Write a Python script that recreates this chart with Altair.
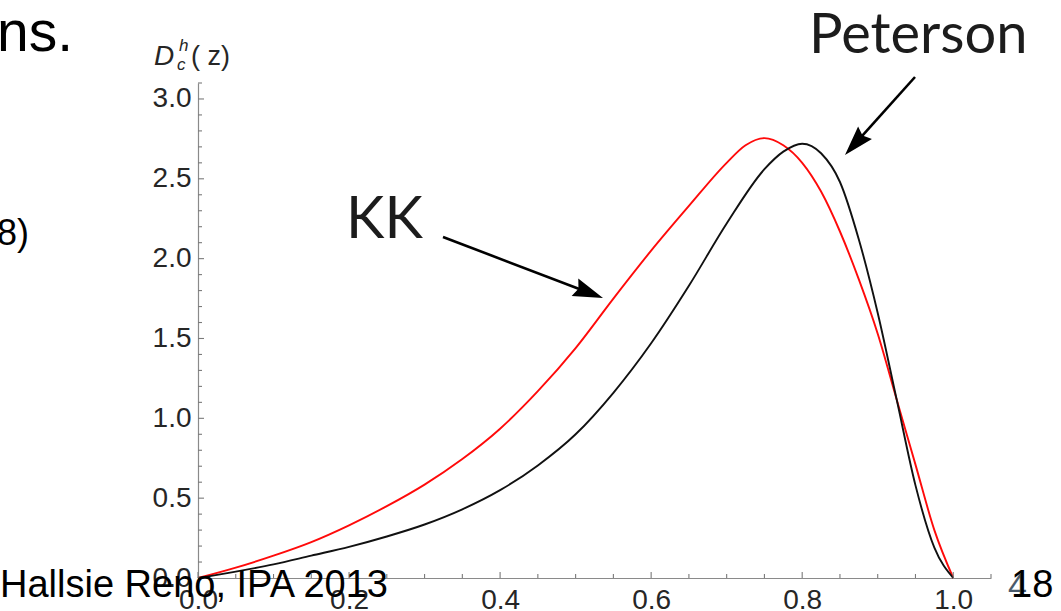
import math

import altair as alt
import pandas as pd

# Fragmentation functions D_c^h(z) for two parametrisations
z_kk = [0.0, 0.05, 0.10, 0.15, 0.20, 0.25, 0.30, 0.35, 0.40, 0.45, 0.50, 0.55, 0.60,
        0.65, 0.70, 0.725, 0.75, 0.775, 0.80, 0.825, 0.85, 0.875, 0.90, 0.925, 0.95,
        0.975, 1.0]
d_kk = [0.0, 0.065, 0.14, 0.225, 0.33, 0.45, 0.585, 0.745, 0.935, 1.17, 1.44, 1.75, 2.05,
        2.33, 2.60, 2.71, 2.755, 2.71, 2.60, 2.42, 2.17, 1.87, 1.53, 1.12, 0.71,
        0.30, 0.0]

z_pet = [0.0, 0.05, 0.10, 0.15, 0.20, 0.25, 0.30, 0.35, 0.40, 0.45, 0.50, 0.55, 0.60,
         0.65, 0.70, 0.75, 0.775, 0.80, 0.825, 0.85, 0.875, 0.90, 0.925, 0.95, 0.975, 1.0]
d_pet = [0.0, 0.04, 0.085, 0.14, 0.195, 0.26, 0.335, 0.43, 0.55, 0.705, 0.90, 1.16, 1.47,
         1.83, 2.22, 2.56, 2.67, 2.72, 2.66, 2.48, 2.12, 1.66, 1.12, 0.58, 0.19, 0.0]

x_major = [0.0, 0.2, 0.4, 0.6, 0.8, 1.0]
x_minor = [0.05, 0.1, 0.15, 0.25, 0.3, 0.35, 0.45, 0.5, 0.55, 0.65, 0.7, 0.75,
           0.85, 0.9, 0.95, 1.05]
y_major = [0.0, 0.5, 1.0, 1.5, 2.0, 2.5, 3.0]
y_minor = [0.1, 0.2, 0.3, 0.4, 0.6, 0.7, 0.8, 0.9, 1.1, 1.2, 1.3, 1.4, 1.6, 1.7,
           1.8, 1.9, 2.1, 2.2, 2.3, 2.4, 2.6, 2.7, 2.8, 2.9, 3.1]

# plot-area geometry (pixels)
W, H = 793, 495
LEFT, TOP = 198, 83
XDOM = [0, 1.05]
YDOM = [0, 3.1]

curves = pd.concat([
    pd.DataFrame({"z": z_kk, "D": d_kk, "model": "KK"}),
    pd.DataFrame({"z": z_pet, "D": d_pet, "model": "Peterson"}),
])

xs = alt.Scale(domain=XDOM, nice=False, zero=False)
ys = alt.Scale(domain=YDOM, nice=False, zero=False)

AXIS_FONT = "Liberation Sans, Arial, sans-serif"

lines = alt.Chart(curves).mark_line(strokeWidth=1.9, interpolate="monotone").encode(
    x=alt.X("z:Q", scale=xs, axis=alt.Axis(
        values=x_major, format=".1f", title=None, ticks=False, grid=False,
        domainColor="#8a8a8a", domainWidth=1.2, labelFont=AXIS_FONT, labelFontSize=28,
        labelColor="#262626", labelPadding=8, labelFlush=False, labelOverlap=False)),
    y=alt.Y("D:Q", scale=ys, axis=alt.Axis(
        values=y_major, format=".1f", title=None, ticks=False, grid=False,
        domainColor="#8a8a8a", domainWidth=1.2, labelFont=AXIS_FONT, labelFontSize=28,
        labelColor="#262626", labelPadding=7, labelFlush=False, labelOverlap=False)),
    color=alt.Color("model:N", scale=alt.Scale(domain=["KK", "Peterson"],
                                               range=["#ff0a0a", "#111111"]), legend=None),
    detail="model:N",
)


def tick_layer(vals, horizontal, length):
    df = pd.DataFrame({"v": vals})
    base = alt.Chart(df).mark_rule(color="#7a7a7a", strokeWidth=1.1)
    if horizontal:
        return base.encode(y=alt.Y("v:Q", scale=ys), x=alt.value(0), x2=alt.value(length))
    return base.encode(x=alt.X("v:Q", scale=xs), y=alt.value(H), y2=alt.value(H - length))


ticks = [
    tick_layer(x_major, False, 6), tick_layer(x_minor, False, 4),
    tick_layer(y_major, True, 6), tick_layer(y_minor, True, 4),
]

one = alt.Data(values=[{}])


def label(text, px, py, size, font, color="#111111", align="left", baseline="alphabetic",
          style="normal"):
    return alt.Chart(one).mark_text(
        text=text, fontSize=size, font=font, color=color, align=align,
        baseline=baseline, fontStyle=style,
    ).encode(x=alt.value(px - LEFT), y=alt.value(py - TOP))


def arrow(x0, y0, x1, y1, head=30):
    dx, dy = x1 - x0, y1 - y0
    L = math.hypot(dx, dy)
    ux, uy = dx / L, dy / L
    ang = math.degrees(math.atan2(dy, dx)) + 90
    shaft = alt.Chart(one).mark_rule(color="#000000", strokeWidth=2.6).encode(
        x=alt.value(x0 - LEFT), y=alt.value(y0 - TOP),
        x2=alt.value(x1 - ux * head * 0.8 - LEFT), y2=alt.value(y1 - uy * head * 0.8 - TOP))
    tip = alt.Chart(one).mark_point(
        shape="M0,-1L0.62,1L0,0.75L-0.62,1Z", filled=True, fill="#000000",
        strokeWidth=0, opacity=1, size=head * head, angle=ang % 360,
    ).encode(x=alt.value(x1 - ux * head / 2 - LEFT), y=alt.value(y1 - uy * head / 2 - TOP))
    return [shaft, tip]


GILL = "Lato, Open Sans, sans-serif"
SLIDE = "Liberation Sans, Arial, sans-serif"

annotations = [
    label("Peterson", 809, 53, 56, GILL, color="#1c1c1c"),
    label("KK", 346, 238, 58, GILL, color="#1c1c1c"),
    *arrow(443, 237, 603, 298),
    *arrow(915, 77, 845, 155),
    # y-axis title D_c^h(z)
    label("D", 154, 65, 28, AXIS_FONT, style="italic", color="#262626"),
    label("h", 179, 51, 17, AXIS_FONT, style="italic", color="#262626"),
    label("c", 177, 70, 17, AXIS_FONT, style="italic", color="#262626"),
    label("( z)", 191, 65, 27, AXIS_FONT, color="#262626"),
    # slide text around the figure
    label("ns.", -3, 51, 57, SLIDE, color="#000000"),
    label("8)", -3, 245, 36, SLIDE, color="#000000"),
    label("4", 1008, 597, 34, AXIS_FONT, color="#4a5a6a"),
    label("Hallsie Reno, IPA 2013", 0, 597, 38, SLIDE, color="#000000"),
    label("18", 1011, 597, 38, SLIDE, color="#000000"),
]

chart = alt.layer(lines, *ticks, *annotations).properties(
    width=W, height=H,
    autosize=alt.AutoSizeParams(type="none"),
    padding={"left": LEFT, "top": TOP, "right": 1061 - LEFT - W, "bottom": 611 - TOP - H},
    background="#ffffff",
).configure_view(stroke=None)

chart.save("out.html", embed_options={"renderer": "svg", "actions": False})
